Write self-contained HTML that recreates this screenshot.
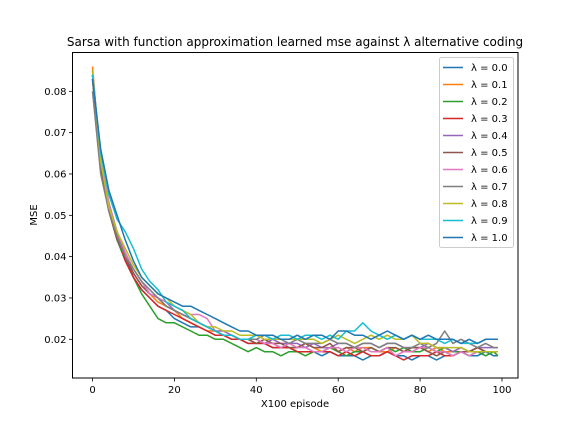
<!DOCTYPE html>
<html><head><meta charset="utf-8"><style>
body{margin:0;background:#fff;font-family:"DejaVu Sans","Liberation Sans",sans-serif}
</style></head><body>
<svg id="c" width="576" height="432" viewBox="0 0 576 432" xmlns="http://www.w3.org/2000/svg" font-family="DejaVu Sans, Liberation Sans, sans-serif"></svg>
<script>
const xValues = [0,2,4,6,8,10,12,14,16,18,20,22,24,26,28,30,32,34,36,38,40,42,44,46,48,50,52,54,56,58,60,62,64,66,68,70,72,74,76,78,80,82,84,86,88,90,92,94,96,98,99];
const lambdaLabels = ["0.0","0.1","0.2","0.3","0.4","0.5","0.6","0.7","0.8","0.9","1.0"];
const colors = ["#1f77b4","#ff7f0e","#2ca02c","#d62728","#9467bd","#8c564b","#e377c2","#7f7f7f","#bcbd22","#17becf","#1f77b4"];
// MSE values in thousandths
const s0 = [83,63,53,46,40,35,32,30,28,27,25,24,23,23,22,21,21,20,20,19,19,19,18,18,18,17,17,17,16,17,16,16,16,15,16,16,17,16,16,15,16,16,15,16,16,17,16,16,17,16,16];
const s1 = [86,62,52,45,40,37,34,31,29,28,27,25,24,23,22,22,21,21,20,20,19,19,19,18,18,18,19,18,17,18,17,18,17,18,18,17,17,18,17,18,18,17,18,17,17,18,17,18,17,17,16];
const s2 = [84,61,51,44,39,35,31,28,25,24,24,23,22,21,21,20,20,19,18,17,18,17,17,16,17,17,16,17,17,18,17,16,17,17,18,17,18,17,18,17,17,18,17,18,17,17,16,17,16,17,16];
const s3 = [84,62,51,45,39,35,32,30,28,27,26,25,24,23,22,21,21,20,20,19,19,19,18,18,18,17,17,17,17,17,16,17,16,17,16,16,17,16,15,16,16,16,17,16,16,17,17,18,17,17,17];
const s4 = [85,63,52,45,40,36,33,31,30,29,27,26,25,24,23,22,22,21,20,20,20,19,20,19,19,19,18,19,18,18,19,19,18,19,19,18,19,19,18,18,18,19,18,18,17,18,17,18,18,18,18];
const s5 = [83,61,51,44,40,36,33,31,30,28,27,26,25,24,23,22,21,21,20,20,19,20,19,19,18,18,19,18,18,19,17,18,18,17,18,17,18,18,17,18,18,17,16,17,16,17,17,18,17,17,17];
const s6 = [84,63,53,46,41,37,34,31,30,29,28,27,26,26,25,22,21,21,20,20,20,19,19,18,19,18,18,17,17,18,18,17,18,18,17,17,18,16,17,17,18,18,17,17,16,17,16,17,17,17,17];
const s7 = [80,60,51,45,40,37,34,32,30,28,27,26,25,24,23,22,21,21,20,20,20,21,20,20,19,20,19,19,19,20,19,19,18,19,19,18,19,19,18,18,19,18,19,22,19,20,19,18,19,18,18];
const s8 = [85,63,52,46,42,38,35,33,31,30,28,27,26,24,23,23,22,22,21,21,21,20,20,20,20,20,20,20,19,20,21,20,19,20,21,20,21,20,20,21,19,19,18,18,18,18,17,17,17,17,17];
const s9 = [84,65,55,49,46,42,37,34,32,29,28,27,25,24,23,22,21,21,20,20,21,21,20,21,21,20,21,21,20,21,20,22,22,24,22,21,20,21,20,21,20,20,20,19,20,19,19,19,20,20,20];
const s10 = [83,66,56,50,44,39,35,33,31,30,29,28,28,27,26,25,24,23,22,22,21,21,21,20,20,21,20,21,21,20,22,22,21,21,20,21,22,21,20,21,20,21,20,20,20,19,20,19,20,20,20];
const series = [s0,s1,s2,s3,s4,s5,s6,s7,s8,s9,s10];
const xTicks = [0,20,40,60,80,100];
const yTicks = [0.02,0.03,0.04,0.05,0.06,0.07,0.08];

const svg = document.getElementById('c');
const NS = "http://www.w3.org/2000/svg";
const L=72.5,R=518,T=52.5,B=378;
const xs = v => 92.5 + v*4.095;
const ys = v => 339.3 - (v-0.02)*4133;
function mk(tag, attrs, text){const e=document.createElementNS(NS,tag);for(const k in attrs)e.setAttribute(k,attrs[k]);if(text!==undefined)e.textContent=text;svg.appendChild(e);return e;}

let t = mk('text',{x:295,y:46,'text-anchor':'middle','font-size':12,fill:'#000'},'Sarsa with function approximation learned mse against λ alternative coding');



series.forEach((s,i)=>{
  const d = s.map((v,j)=>(j?'L':'M')+xs(xValues[j]).toFixed(1)+','+ys(v/1000).toFixed(1)).join(' ');
  const p = mk('path',{d:d,fill:'none',stroke:colors[i],'stroke-width':1.5,'stroke-linejoin':'round'});
  
  
});

const frame = mk('rect',{x:L,y:T,width:R-L,height:B-T,fill:'none',stroke:'#000','stroke-width':1});



xTicks.forEach(v=>{
  const x=xs(v);
  const tk=mk('line',{x1:x,x2:x,y1:B,y2:B+3.5,stroke:'#000','stroke-width':0.8});
  
  
  const lb=mk('text',{x:x,y:B+15,'text-anchor':'middle','font-size':10,fill:'#000'},String(v));
  
  
});
yTicks.forEach(v=>{
  const y=ys(v);
  const tk=mk('line',{x1:L-3.5,x2:L,y1:y,y2:y,stroke:'#000','stroke-width':0.8});
  
  
  const lb=mk('text',{x:L-6,y:y+3.5,'text-anchor':'end','font-size':10,fill:'#000'},v.toFixed(2));
  
  
});
const xl=mk('text',{x:295,y:407,'text-anchor':'middle','font-size':10,fill:'#000'},'X100 episode');


const yl=mk('text',{x:37,y:215,'text-anchor':'middle','font-size':10,fill:'#000',transform:'rotate(-90 37 215)'},'MSE');



const lg=mk('rect',{x:439.5,y:57.5,width:74,height:190,rx:2,fill:'#fff','fill-opacity':0.8,stroke:'#ccc','stroke-width':1});


lambdaLabels.forEach((lab,i)=>{
  const y=67.5+i*17;
  const ln=mk('line',{x1:443,x2:463,y1:y,y2:y,stroke:colors[i],'stroke-width':1.5});
  
  
  const tx=mk('text',{x:471,y:y+3.5,'font-size':10,fill:'#000'},'λ = '+lab);
  
  
});
</script>
</body></html>
